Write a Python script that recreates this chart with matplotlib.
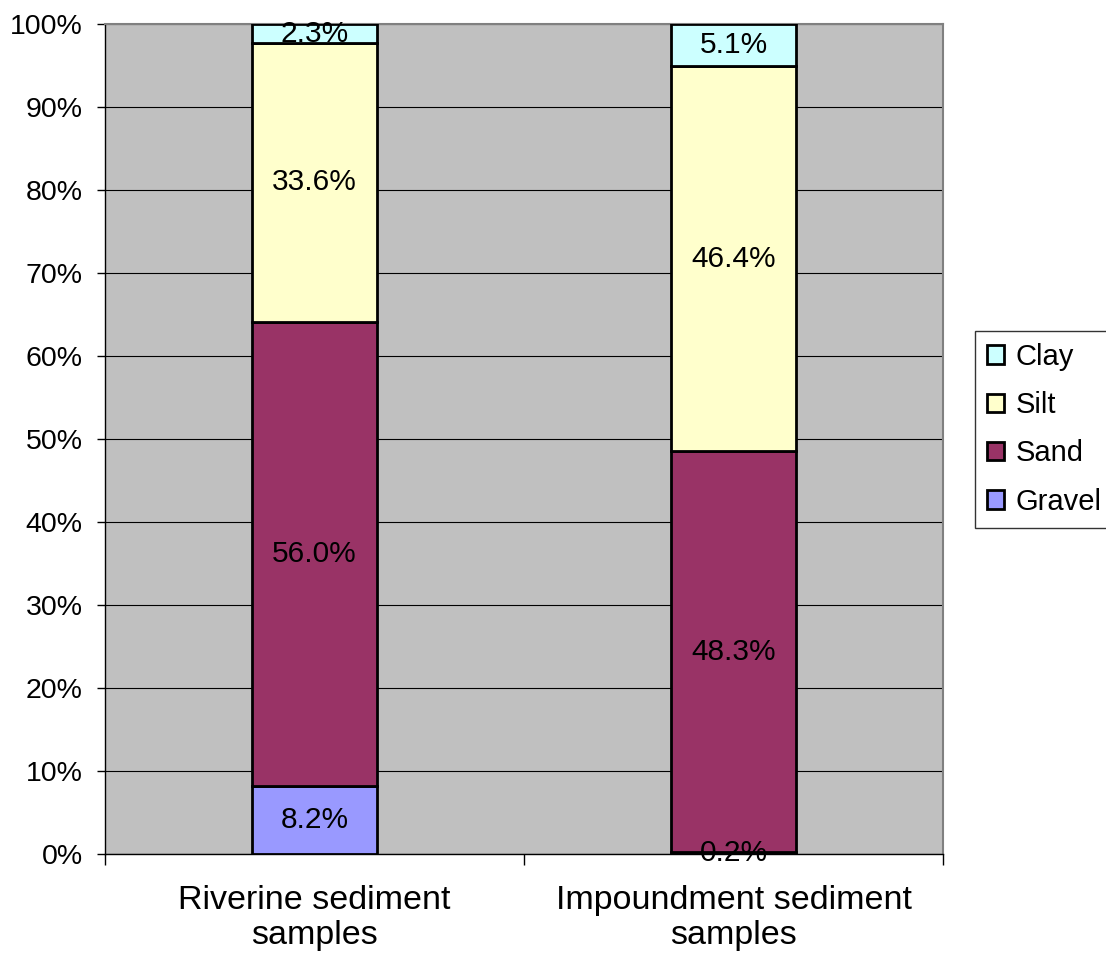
import matplotlib
matplotlib.use("Agg")
import matplotlib.pyplot as plt
import numpy as np
from matplotlib.ticker import FixedLocator, NullFormatter

plt.rcParams['font.family'] = ['Liberation Sans', 'DejaVu Sans']

categories = ["Riverine sediment\nsamples", "Impoundment sediment\nsamples"]
components = ["Gravel", "Sand", "Silt", "Clay"]
gravel = [8.2, 0.2]
sand = [56.0, 48.3]
silt = [33.6, 46.4]
clay = [2.3, 5.1]
colors = {"Gravel": "#9999FF", "Sand": "#993366", "Silt": "#FFFFCC", "Clay": "#CCFFFF"}

series = {"Gravel": gravel, "Sand": sand, "Silt": silt, "Clay": clay}
totals = np.sum([series[c] for c in components], axis=0)

fig = plt.figure(figsize=(11.06, 9.61), dpi=100)
ax = fig.add_axes([105/1106, 1 - 854/961, (943-105)/1106, (854-24)/961])
ax.set_facecolor("#C0C0C0")

x = np.arange(len(categories))
width = 0.30
bottom = np.zeros(len(categories))
handles = {}
for comp in components:
    vals = np.array(series[comp]) / totals * 100
    bars = ax.bar(x, vals, width, bottom=bottom, color=colors[comp],
                  edgecolor="black", linewidth=2, zorder=3)
    handles[comp] = bars
    for xi, v, b, raw in zip(x, vals, bottom, series[comp]):
        ax.text(xi, b + v / 2, f"{raw:.1f}%", ha="center", va="center",
                fontsize=21.5, color="black", zorder=4)
    bottom += vals

ax.set_xlim(-0.5, 1.5)
ax.set_ylim(0, 100)
ax.set_yticks(np.arange(0, 101, 10))
ax.set_yticklabels([f"{v}%" for v in range(0, 101, 10)], fontsize=20.5)
ax.yaxis.grid(True, color="black", linewidth=0.8, zorder=1)
ax.set_axisbelow(True)

ax.xaxis.set_major_locator(FixedLocator([-0.5, 0.5, 1.5]))
ax.xaxis.set_major_formatter(NullFormatter())
ax.xaxis.set_minor_locator(FixedLocator(x))
ax.set_xticklabels(categories, minor=True, fontsize=24.5, linespacing=1.2)
ax.tick_params(axis="x", which="minor", length=0, pad=22)
ax.tick_params(axis="x", which="major", length=8, width=1, direction="out")
ax.tick_params(axis="y", length=6, width=1, direction="out", pad=10)

for side in ["top", "right"]:
    ax.spines[side].set_color("#808080")
    ax.spines[side].set_linewidth(1.5)
for side in ["left", "bottom"]:
    ax.spines[side].set_color("black")
    ax.spines[side].set_linewidth(1)

order = ["Clay", "Silt", "Sand", "Gravel"]
leg = fig.legend([handles[c] for c in order], order,
                 loc="upper left", bbox_to_anchor=(975/1106, 1 - 331/961),
                 fontsize=21, frameon=True, fancybox=False, edgecolor="black",
                 handlelength=0.6, handleheight=0.6, handletextpad=0.4,
                 labelspacing=0.7, borderpad=0.4, borderaxespad=0)
leg.get_frame().set_linewidth(1)

fig.savefig("out.png", dpi=100)
